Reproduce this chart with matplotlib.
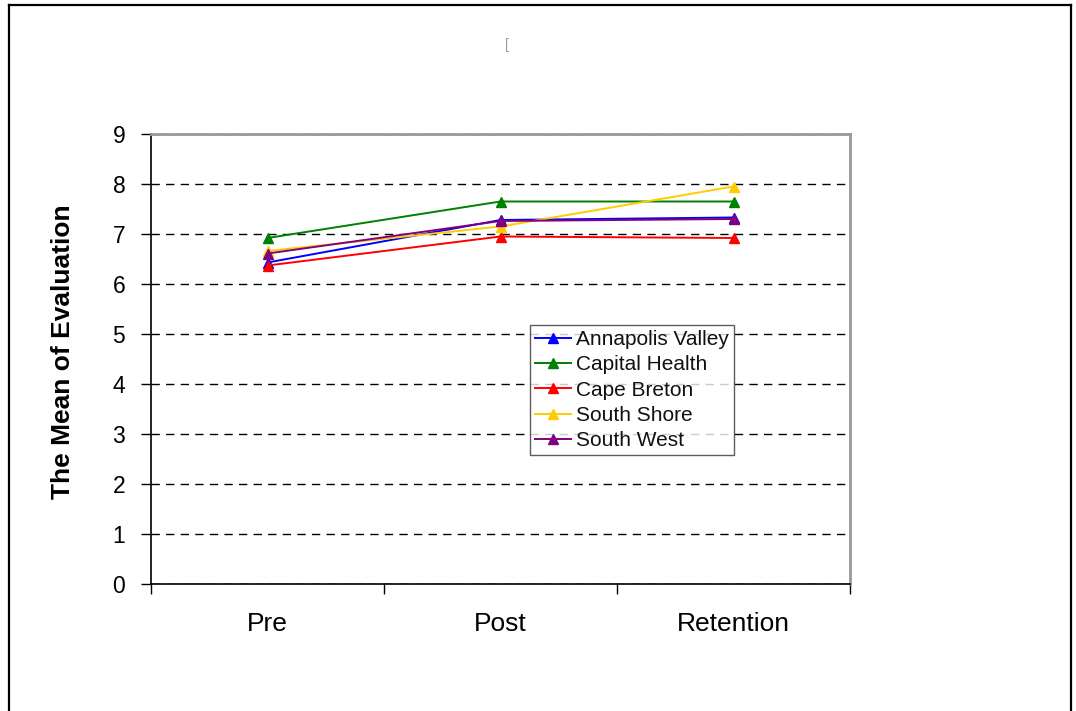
import matplotlib
matplotlib.use("Agg")
import matplotlib.pyplot as plt
from matplotlib.lines import Line2D
import numpy as np

plt.rcParams['font.family'] = ['Liberation Sans', 'DejaVu Sans']

categories = ["Pre", "Post", "Retention"]
series_names = ["Annapolis Valley", "Capital Health", "Cape Breton", "South Shore", "South West"]
annapolis_valley = [6.43, 7.28, 7.33]
capital_health = [6.92, 7.65, 7.65]
cape_breton = [6.37, 6.95, 6.92]
south_shore = [6.66, 7.15, 7.95]
south_west = [6.61, 7.26, 7.30]
series_values = [annapolis_valley, capital_health, cape_breton, south_shore, south_west]
colors = ["#0000FF", "#008000", "#FF0000", "#FFCC00", "#800080"]
y_ticks = list(range(0, 10))
y_label = "The Mean of Evaluation"

W, H = 1076, 711
fig = plt.figure(figsize=(W / 100, H / 100), dpi=100)
fig.patch.set_facecolor("white")

left, right, top, bottom = 151, 850, 134, 584
ax = fig.add_axes([left / W, 1 - bottom / H, (right - left) / W, (bottom - top) / H])

x = np.arange(len(categories))
for name, vals, c in zip(series_names, series_values, colors):
    ax.plot(x, vals, color=c, lw=1.4, marker="^", markersize=7,
            markeredgecolor=c, markerfacecolor=c, label=name)

ax.set_xlim(-0.5, len(categories) - 0.5)
ax.set_ylim(0, 9)
ax.set_yticks(y_ticks)
ax.set_yticklabels([str(t) for t in y_ticks], fontsize=16.5)
ax.yaxis.grid(True, color="black", linestyle=(0, (6, 4.5)), linewidth=1)
ax.set_axisbelow(True)

ax.set_xticks(np.arange(len(categories) + 1) - 0.5)
ax.set_xticklabels([])
ax.set_xticks(x, minor=True)
ax.set_xticklabels(categories, minor=True, fontsize=19)
ax.tick_params(axis="x", which="minor", length=0, pad=20)
ax.tick_params(axis="x", which="major", length=7, width=1, direction="out")
ax.tick_params(axis="y", which="major", length=7.5, width=1, direction="out", pad=11)

for s in ["left", "bottom"]:
    ax.spines[s].set_color("black")
    ax.spines[s].set_linewidth(1.2)
for s in ["top", "right"]:
    ax.spines[s].set_color("#999999")
    ax.spines[s].set_linewidth(2)

fig.text(63 / W, 1 - 352 / H, y_label, rotation=90, fontsize=19, fontweight="bold",
         ha="center", va="center")

leg = ax.legend(loc="upper left", bbox_to_anchor=(530 / W, 1 - 325 / H),
                bbox_transform=fig.transFigure, fontsize=15, frameon=True,
                fancybox=False, handlelength=1.7, handletextpad=0.25,
                labelspacing=0.3, borderpad=0.25, borderaxespad=0)
leg.get_frame().set_edgecolor("#333333")
leg.get_frame().set_linewidth(1)
for t in leg.get_texts():
    t.set_color("#111111")

fig.text(507 / W, 1 - 45 / H, "[", fontsize=10, color="#999999", ha="center", va="center")

bx0, bx1, by0 = 9 / W, 1070.5 / W, 1 - 5 / H
for xs, ys in [([bx0, bx0], [-0.05, by0]), ([bx0, bx1], [by0, by0]), ([bx1, bx1], [by0, -0.05])]:
    fig.add_artist(Line2D(xs, ys, transform=fig.transFigure, color="black", lw=1.6))

fig.savefig("out.png", dpi=100, facecolor="white")
